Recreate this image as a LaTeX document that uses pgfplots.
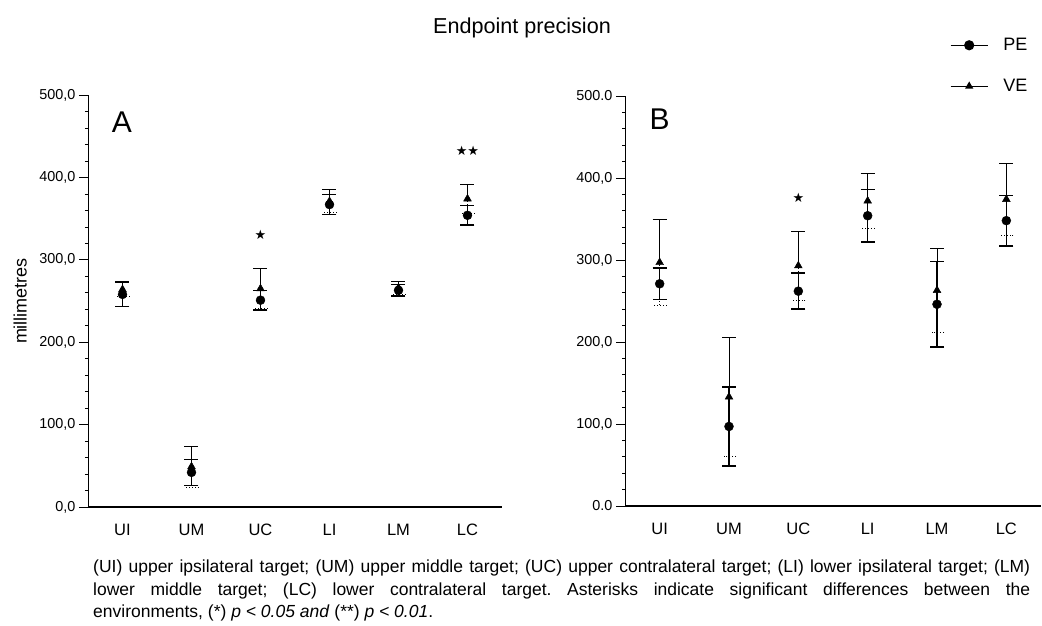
\documentclass[border=0pt]{standalone}
\usepackage{pgfplots}
\pgfplotsset{compat=1.18}
\usepackage{pgfplotstable}
\usepackage{fontspec}
\setmainfont{Liberation Sans}
\newfontfamily\symfont{DejaVu Sans}

\pgfplotstableread{
x   pe  pee  ve  vee
0.5 258 15   264 9
1.5 42  16   49  25
2.5 251 12   265 24
3.5 367 12   371 14
4.5 263 7    266 8
5.5 354 12   374 18
}\dataA

\pgfplotstableread{
x   pe  pee  ve  vee
0.5 271 19   297 53
1.5 97  48   133 73
2.5 262 22   293 42
3.5 354 32   372 33
4.5 246 52   263 51
5.5 348 31   374 44
}\dataB

\pgfplotsset{
  panel/.style={
    scale only axis, clip=false,
    xmin=0, xmax=6, ymin=0, ymax=500,
    axis x line=bottom, axis y line=left,
    axis line style={-},
    x axis line style={line width=1.5pt},
    y axis line style={line width=0.7pt},
    xtick={0.5,1.5,2.5,3.5,4.5,5.5},
    xticklabels={UI,UM,UC,LI,LM,LC},
    major x tick style={draw=none},
    extra x ticks={0,1,2,3,4,5,6},
    extra x tick labels={},
    extra x tick style={major tick length=8pt, tick style={line width=0.8pt, black}},
    ytick={0,100,200,300,400,500},
    minor y tick num=4,
    tick align=outside,
    major tick length=9pt, minor tick length=3pt,
    tick style={black, line width=0.6pt},
    xticklabel style={font=\fontsize{16.5}{16.5}\selectfont, text height=12pt, text depth=0pt, yshift=-4pt},
    yticklabel style={font=\fontsize{14.4}{14.4}\selectfont},
    legend image code/.code={%
      \draw[mark repeat=2,mark phase=2,#1] plot coordinates {(0pt,0pt) (18.5pt,0pt) (37pt,0pt)};},
  },
  pestyle/.style={forget plot, only marks, black, mark=*, mark size=4.5pt,
    error bars/.cd, y dir=both, y explicit,
    error bar style={line width=1.4pt},
    error mark options={rotate=90, line width=1.4pt, mark size=7pt}},
  vestyle/.style={forget plot, only marks, black, mark=triangle*, mark size=4.5pt,
    error bars/.cd, y dir=plus, y explicit,
    error bar style={line width=0.6pt},
    error mark options={rotate=90, line width=0.8pt, mark size=7pt}},
  veminus/.style={forget plot, only marks, black, mark=none,
    error bars/.cd, y dir=minus, y explicit,
    error bar style={line width=0.6pt, dotted},
    error mark options={rotate=90, line width=0.9pt, mark size=7pt, dotted}},
}

\begin{document}
\frenchspacing
\begin{tikzpicture}[x=1pt,y=1pt]
\useasboundingbox (0,0) rectangle (1042,626);

\node[font=\fontsize{21.6}{21.6}\selectfont] at (522,598) {Endpoint precision};

\begin{axis}[panel,
  at={(88pt,119pt)}, anchor=south west,
  width=414pt, height=412pt,
  yticklabels={{0,0},{100,0},{200,0},{300,0},{400,0},{500,0}},
  ylabel={millimetres},
  ylabel style={at={(axis description cs:-0.164,0.5)}, anchor=center, font=\fontsize{18}{18}\selectfont},
]
\addplot[veminus] table[x=x, y=ve, y error=vee] {\dataA};
\addplot[pestyle] table[x=x, y=pe, y error=pee] {\dataA};
\addplot[vestyle] table[x=x, y=ve, y error=vee] {\dataA};
\node[font=\fontsize{30}{30}\selectfont] at (axis cs:0.49,467) {A};
\node[font=\symfont\fontsize{13}{13}\selectfont] at (axis cs:2.5,330) {★};
\node[font=\symfont\fontsize{13}{13}\selectfont] at (axis cs:5.5,432) {★★};
\end{axis}

\begin{axis}[panel,
  at={(625pt,120pt)}, anchor=south west,
  width=416pt, height=410pt,
  yticklabels={{0.0},{100,0},{200,0},{300,0},{400,0},{500.0}},
  legend style={draw=none, fill=none, at={(axis description cs:0.781,1.146)}, anchor=north west,
    font=\fontsize{18}{18}\selectfont, row sep=23pt, inner sep=0pt,
    /tikz/every odd column/.append style={column sep=13pt}},
  legend cell align=left,
]
\addlegendimage{black, line width=1.2pt, mark=*, mark size=4.5pt}
\addlegendentry{PE}
\addlegendimage{black, line width=1.2pt, mark=triangle*, mark size=3.5pt}
\addlegendentry{VE}
\addplot[veminus] table[x=x, y=ve, y error=vee] {\dataB};
\addplot[pestyle] table[x=x, y=pe, y error=pee] {\dataB};
\addplot[vestyle] table[x=x, y=ve, y error=vee] {\dataB};
\node[font=\fontsize{30}{30}\selectfont] at (axis cs:0.5,472) {B};
\node[font=\symfont\fontsize{13}{13}\selectfont] at (axis cs:2.5,376) {★};
\end{axis}

\node[anchor=north west, inner sep=0pt, text width=937pt, align=justify,
  font=\fontsize{17.5}{22.5}\selectfont] at (93,66)
  {(UI) upper ipsilateral target; (UM) upper middle target; (UC) upper contralateral target; (LI) lower ipsilateral target; (LM)\linebreak lower middle target; (LC) lower contralateral target. Asterisks indicate significant differences between the\linebreak environments, (*) \textit{p < 0.05 and} (**) \textit{p < 0.01}.};
\end{tikzpicture}
\end{document}
